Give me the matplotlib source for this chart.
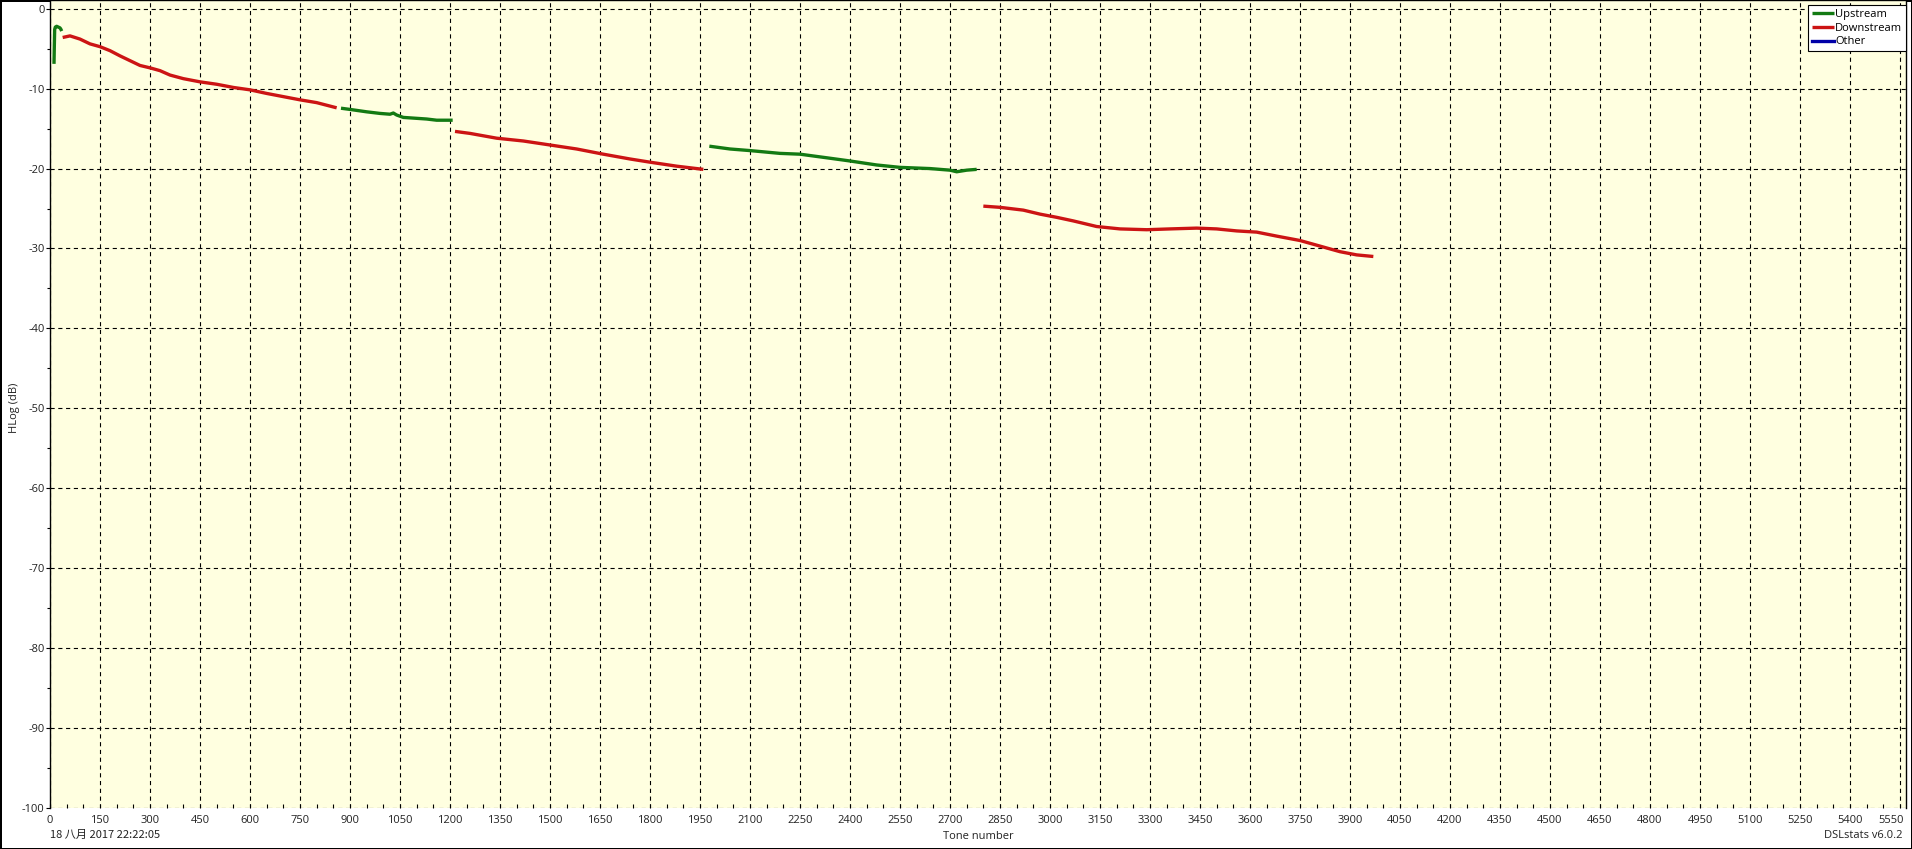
import numpy as np
import matplotlib
matplotlib.use("Agg")
import matplotlib.pyplot as plt
import matplotlib.transforms as mtransforms
from matplotlib.ticker import MultipleLocator

# ---------------- data ----------------
us0_tone = [12, 13, 14, 16, 20, 25, 30, 33, 35]
us0_db = [-6.9, -4.6, -2.6, -2.3, -2.2, -2.3, -2.4, -2.6, -2.8]

ds1_tone = [38, 60, 90, 120, 150, 180, 210, 240, 270, 300, 330, 360, 400, 450,
            500, 550, 600, 650, 700, 750, 800, 860]
ds1_db = [-3.6, -3.4, -3.8, -4.4, -4.75, -5.25, -5.9, -6.5, -7.1, -7.4, -7.75,
          -8.3, -8.75, -9.15, -9.45, -9.85, -10.15, -10.6, -11.0, -11.4, -11.75, -12.4]

us1_tone = [873, 900, 950, 990, 1020, 1030, 1040, 1060, 1130, 1160, 1208]
us1_db = [-12.45, -12.6, -12.9, -13.1, -13.2, -13.05, -13.3, -13.6, -13.8, -13.95, -13.95]

ds2_tone = [1215, 1260, 1340, 1420, 1500, 1580, 1660, 1740, 1800, 1880, 1960]
ds2_db = [-15.35, -15.6, -16.2, -16.55, -17.05, -17.55, -18.2, -18.8, -19.2, -19.7, -20.1]

us2_tone = [1978, 2040, 2100, 2190, 2250, 2330, 2400, 2480, 2550, 2640, 2700,
            2720, 2750, 2780]
us2_db = [-17.2, -17.55, -17.75, -18.1, -18.2, -18.65, -19.05, -19.55, -19.85,
          -20.0, -20.2, -20.4, -20.2, -20.1]

ds3_tone = [2800, 2850, 2920, 2970, 3020, 3070, 3140, 3210, 3290, 3360, 3440,
            3500, 3560, 3620, 3680, 3750, 3810, 3870, 3920, 3970]
ds3_db = [-24.7, -24.85, -25.2, -25.7, -26.1, -26.55, -27.25, -27.55, -27.65,
          -27.55, -27.45, -27.55, -27.8, -27.95, -28.45, -29.0, -29.7, -30.4,
          -30.8, -31.0]

upstream = [(us0_tone, us0_db), (us1_tone, us1_db), (us2_tone, us2_db)]
downstream = [(ds1_tone, ds1_db), (ds2_tone, ds2_db), (ds3_tone, ds3_db)]

legend_labels = ["Upstream", "Downstream", "Other"]
x_label = "Tone number"
y_label = "HLog (dB)"
date_text = "18 八月 2017 22:22:05"
version_text = "DSLstats v6.0.2"

# ---------------- styling ----------------
plt.rcParams['font.family'] = ['Open Sans', 'Noto Sans CJK SC', 'DejaVu Sans']
plt.rcParams['axes.unicode_minus'] = False
plt.rcParams['lines.scale_dashes'] = False

W, H = 1912, 849
fig = plt.figure(figsize=(W / 100, H / 100), dpi=100)
fig.patch.set_facecolor('white')
fig.patch.set_edgecolor('black')
fig.patch.set_linewidth(2)

left_px, right_px, top_px, bottom_px = 50, 1906, 0, 808
ax = fig.add_axes([left_px / W, 1 - bottom_px / H,
                   (right_px - left_px) / W, (bottom_px - top_px) / H])
ax.set_facecolor('#FFFFE0')

green = '#137A13'
red = '#CC1414'
blue = '#0000A8'

for i, (t, v) in enumerate(upstream):
    ax.plot(t, v, color=green, lw=2.4, solid_capstyle='butt',
            label=legend_labels[0] if i == 0 else None, zorder=3)
for i, (t, v) in enumerate(downstream):
    ax.plot(t, v, color=red, lw=2.4, solid_capstyle='butt',
            label=legend_labels[1] if i == 0 else None, zorder=3)
ax.plot([], [], color=blue, lw=2.4, label=legend_labels[2])

ax.set_xlim(0, 5568)
ax.set_ylim(-100, 1.09)
ax.xaxis.set_major_locator(MultipleLocator(150))
ax.xaxis.set_minor_locator(MultipleLocator(50))
ax.yaxis.set_major_locator(MultipleLocator(10))
ax.yaxis.set_minor_locator(MultipleLocator(5))

ax.grid(True, which='major', color='black', lw=0.8, linestyle=(0, (3, 2.6)))
ax.set_axisbelow(True)

ax.spines['bottom'].set_visible(False)
for s in ['left', 'right', 'top']:
    ax.spines[s].set_color('black')
    ax.spines[s].set_linewidth(1.0)

ax.tick_params(axis='y', which='major', direction='out', length=3, width=0.8,
               pad=1, labelsize=8, colors='black', labelcolor='#222222')
ax.tick_params(axis='y', which='minor', direction='out', length=2, width=0.8)
ax.tick_params(axis='x', which='major', direction='in', length=3, width=0.8,
               pad=5, labelsize=8, labelcolor='#222222')
ax.tick_params(axis='x', which='minor', direction='in', length=3, width=0.8)

fig.text((left_px + right_px) / 2 / W, 1 - 836.5 / H, x_label, ha='center',
         va='center', fontsize=8, color='#222222')
fig.text(15 / W, 1 - 408 / H, y_label, ha='center', va='center', rotation=90,
         fontsize=8, color='#222222')
fig.text(50 / W, 1 - 835 / H, date_text, ha='left', va='center', fontsize=8,
         color='#222222', family=['Noto Sans CJK SC', 'DejaVu Sans'])
fig.text(1902 / W, 1 - 835 / H, version_text, ha='right', va='center',
         fontsize=8, color='#222222')

leg = ax.legend(loc='upper right', bbox_to_anchor=(1906 / W, 1 - 5 / H),
                bbox_transform=fig.transFigure, borderaxespad=0,
                fancybox=False, framealpha=1, edgecolor='black', fontsize=8,
                handlelength=2.0, handletextpad=0.1, labelspacing=0.25,
                borderpad=0.35)
leg.get_frame().set_linewidth(0.8)

# keep the last x tick label inside the frame, as in the reference
fig.canvas.draw()
for lbl in ax.get_xticklabels():
    if lbl.get_text() == '5550':
        lbl.set_horizontalalignment('right')
        lbl.set_transform(lbl.get_transform() +
                          mtransforms.ScaledTranslation(4 / 100, 0, fig.dpi_scale_trans))

fig.savefig('out.png', dpi=100)
